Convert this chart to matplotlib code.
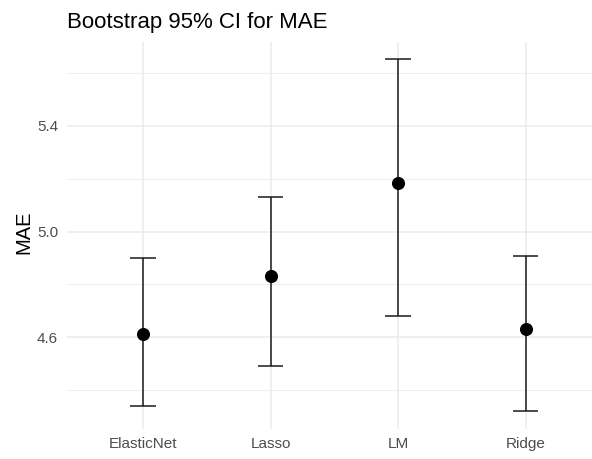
import matplotlib
matplotlib.use("Agg")
import matplotlib.pyplot as plt
import numpy as np
from matplotlib.ticker import FixedLocator

models = ["ElasticNet", "Lasso", "LM", "Ridge"]
mae_mean = [4.612, 4.830, 5.183, 4.633]
ci_lower = [4.340, 4.492, 4.680, 4.321]
ci_upper = [4.900, 5.130, 5.653, 4.908]
y_major = [4.6, 5.0, 5.4]
y_minor = [4.4, 4.8, 5.2, 5.6]

plt.rcParams['font.family'] = ['Liberation Sans', 'DejaVu Sans']

W, H = 592, 459
fig = plt.figure(figsize=(W / 100, H / 100), dpi=100)
left, right, top, bottom = 66.5, 602.2, 41.5, 428.5
ax = fig.add_axes([left / W, 1 - bottom / H, (right - left) / W, (bottom - top) / H])

x = np.arange(len(models))
lo_all = min(ci_lower); hi_all = max(ci_upper)
pad = 0.05 * (hi_all - lo_all)
ax.set_ylim(lo_all - pad, hi_all + pad)
ax.set_xlim(-0.6, len(models) - 1 + 0.6)

# grid
for v in y_minor:
    ax.axhline(v, color="#ebebeb", lw=0.6, zorder=0)
for v in y_major:
    ax.axhline(v, color="#ebebeb", lw=1.1, zorder=0)
for xi in x:
    ax.axvline(xi, color="#ebebeb", lw=1.1, zorder=0)

ax.vlines(x, ci_lower, ci_upper, color="#1a1a1a", lw=1.1, zorder=2)
ax.hlines(ci_lower, x - 0.1, x + 0.1, color="#1a1a1a", lw=1.1, zorder=2)
ax.hlines(ci_upper, x - 0.1, x + 0.1, color="#1a1a1a", lw=1.1, zorder=2)
ax.plot(x, mae_mean, "o", color="black", ms=8.4, zorder=3)

ax.set_xticks(x)
ax.set_xticklabels(models)
ax.yaxis.set_major_locator(FixedLocator(y_major))
ax.set_yticklabels([f"{v:.1f}" for v in y_major])
ax.tick_params(axis="both", length=0, labelsize=11, labelcolor="#4d4d4d", pad=6)
for s in ax.spines.values():
    s.set_visible(False)

ax.set_ylabel("MAE", fontsize=14.5, color="black")
ax.yaxis.set_label_coords((24 - left) / (right - left), (bottom - 232) / (bottom - top),
                          transform=ax.transAxes)
ax.yaxis.label.set_va("center")
fig.text(67 / W, 1 - 28 / H, "Bootstrap 95% CI for MAE", fontsize=16, ha="left", va="baseline")

fig.savefig("out.png", dpi=100)
